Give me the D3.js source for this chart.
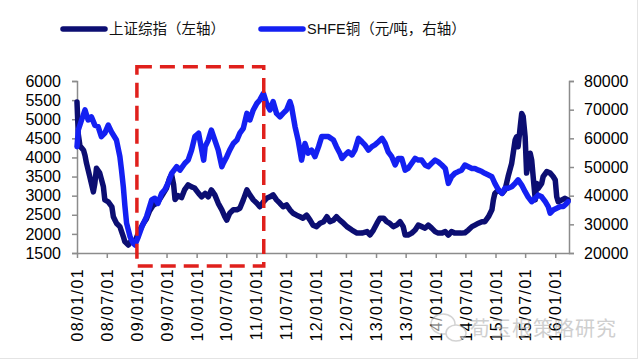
<!DOCTYPE html>
<html><head><meta charset="utf-8">
<script src="https://cdn.jsdelivr.net/npm/d3@7/dist/d3.min.js"></script>
<style>body{margin:0;background:#fff}svg{display:block}</style>
</head><body>
<svg id="chart" width="640" height="360"></svg>
<script>
// ---- data ----
const sseDates = ["2008-01-01","2008-01-09","2008-01-19","2008-01-29","2008-02-10","2008-02-19","2008-02-28","2008-03-19","2008-04-10","2008-04-19","2008-04-29","2008-05-19","2008-06-10","2008-06-19","2008-07-10","2008-08-01","2008-08-10","2008-08-29","2008-09-19","2008-10-10","2008-10-19","2008-11-10","2008-11-30","2008-12-20",
"2009-01-01","2009-01-19","2009-02-10","2009-03-01","2009-03-19","2009-04-10","2009-05-01","2009-05-19","2009-06-10","2009-07-01","2009-07-19","2009-08-01","2009-08-13","2009-08-22","2009-09-10","2009-10-01","2009-10-19","2009-11-10","2009-12-01","2009-12-19",
"2010-01-13","2010-02-01","2010-02-22","2010-03-13","2010-04-01","2010-04-22","2010-05-13","2010-06-04","2010-06-22","2010-07-04","2010-07-22","2010-08-13","2010-09-04","2010-09-22","2010-10-13","2010-11-04","2010-11-22","2010-12-13",
"2011-01-04","2011-01-22","2011-02-13","2011-03-04","2011-03-25","2011-04-13","2011-05-04","2011-05-25","2011-06-13","2011-07-04","2011-07-25","2011-08-13","2011-09-04","2011-09-25","2011-10-13","2011-11-04","2011-11-25","2011-12-13",
"2012-01-04","2012-01-25","2012-02-16","2012-03-07","2012-03-25","2012-04-16","2012-05-04","2012-05-25","2012-06-16","2012-07-07","2012-08-07","2012-09-07","2012-10-07","2012-11-07","2012-11-25","2012-12-16",
"2013-01-07","2013-01-25","2013-02-16","2013-03-07","2013-03-25","2013-04-16","2013-05-07","2013-05-28","2013-06-16","2013-06-28","2013-07-16","2013-08-07","2013-08-28","2013-09-16","2013-10-07","2013-10-28","2013-11-16","2013-12-07","2013-12-28",
"2014-01-16","2014-02-07","2014-02-28","2014-03-19","2014-04-07","2014-04-28","2014-05-19","2014-06-07","2014-06-28","2014-07-19","2014-08-10","2014-08-28","2014-09-19","2014-10-10","2014-10-28","2014-11-19","2014-12-10","2014-12-19","2014-12-28",
"2015-01-19","2015-02-10","2015-02-28","2015-03-19","2015-04-10","2015-04-19","2015-05-01","2015-05-10","2015-05-19","2015-06-01","2015-06-10","2015-06-19","2015-07-01","2015-07-10","2015-07-19","2015-08-01","2015-08-10","2015-08-19","2015-09-01","2015-09-10","2015-09-19","2015-10-10","2015-10-19","2015-11-10","2015-12-01","2015-12-19",
"2016-01-01","2016-01-10","2016-01-19","2016-02-10","2016-03-01","2016-03-19"];
const sseValues = [5450,4600,4300,4250,4190,4050,3850,3500,3100,3320,3720,3590,3240,2890,2840,2710,2450,2280,2190,1930,1800,1710,1840,1750,
1930,2100,2280,2400,2600,2750,2800,2900,3050,3200,3450,3550,3300,2900,3000,2950,3150,3280,3230,3200,
3060,2970,3060,2970,3150,3020,2800,2630,2450,2360,2540,2630,2630,2670,2890,3150,3020,2890,
2800,2710,2840,2930,2970,3020,2890,2800,2710,2760,2630,2540,2490,2450,2410,2490,2360,2230,
2190,2280,2320,2450,2320,2360,2450,2360,2280,2190,2100,2020,2020,2060,1970,2100,
2280,2410,2410,2320,2280,2190,2230,2320,2190,1970,1970,2020,2100,2230,2190,2150,2230,2150,2060,
2020,2020,2060,1970,2060,2020,2020,2020,2030,2100,2190,2230,2280,2320,2320,2450,2630,2890,3060,
3150,3060,3150,3500,3850,4110,4460,4540,4280,4800,5150,5070,4540,3590,3850,4110,3930,3500,2890,3320,3190,3320,3500,3630,3590,3500,
3410,2970,2840,2890,2930,2890];

const cuDates = ["2008-01-01","2008-01-09","2008-01-29","2008-02-19","2008-03-09","2008-03-29","2008-04-19","2008-05-09","2008-05-29","2008-06-19","2008-07-10","2008-07-29","2008-08-29","2008-09-19","2008-09-29","2008-10-10","2008-10-20","2008-10-30","2008-11-20","2008-12-10","2008-12-20",
"2009-01-10","2009-02-01","2009-03-01","2009-04-01","2009-04-20","2009-05-10","2009-06-01","2009-06-20","2009-07-10","2009-08-01","2009-09-01","2009-09-21","2009-10-21","2009-11-10","2009-12-01","2009-12-21",
"2010-01-13","2010-02-01","2010-02-13","2010-02-22","2010-03-13","2010-04-01","2010-04-22","2010-05-13","2010-06-04","2010-06-13","2010-07-04","2010-07-22","2010-08-13","2010-09-04","2010-09-22","2010-10-13","2010-11-04","2010-11-22","2010-12-13",
"2011-01-04","2011-01-22","2011-02-13","2011-03-04","2011-03-25","2011-04-13","2011-05-04","2011-05-25","2011-06-13","2011-07-04","2011-07-25","2011-08-04","2011-08-25","2011-09-13","2011-10-04","2011-10-25","2011-11-13","2011-12-04","2011-12-25",
"2012-01-16","2012-02-04","2012-02-16","2012-03-16","2012-04-16","2012-05-04","2012-05-25","2012-06-07","2012-06-25","2012-07-16","2012-08-07","2012-08-25","2012-09-16","2012-10-07","2012-10-25","2012-11-16","2012-12-07","2012-12-25",
"2013-01-16","2013-02-07","2013-02-25","2013-03-16","2013-04-07","2013-04-28","2013-05-16","2013-06-07","2013-06-28","2013-07-16","2013-08-07","2013-08-28","2013-09-16","2013-10-07","2013-10-28","2013-11-16","2013-12-07","2013-12-28",
"2014-01-16","2014-02-07","2014-02-28","2014-03-19","2014-04-07","2014-04-28","2014-05-19","2014-06-07","2014-06-28","2014-07-19","2014-08-10","2014-08-28","2014-09-19","2014-10-10","2014-10-28","2014-11-19","2014-12-10","2014-12-28",
"2015-01-19","2015-02-10","2015-02-28","2015-03-19","2015-04-10","2015-05-01","2015-05-19","2015-06-10","2015-07-01","2015-07-19","2015-08-10","2015-09-01","2015-09-19","2015-10-10","2015-11-01","2015-11-19","2015-12-01","2015-12-19",
"2016-01-10","2016-02-01","2016-02-19","2016-03-10","2016-03-19"];
const cuValues = [57100,62900,66400,69900,66400,67500,64600,64100,60600,61800,64600,62300,59400,53600,48900,43100,36200,30400,25700,23400,22800,
25700,29200,32700,38500,39100,37300,40800,42000,44300,47800,50100,48900,51300,52400,55900,60600,
61800,55900,52400,57100,59400,62900,59400,55900,50100,51300,53600,55900,58200,59400,61800,63500,68700,66400,69900,
72200,73400,75700,72200,69900,72800,68700,67500,68700,69900,72800,71000,64100,59400,52400,58200,54800,55900,53600,
57100,60600,60600,60600,59400,57100,54800,53000,54200,55300,54200,55900,60000,58800,57700,55900,57100,57700,
58800,60000,58300,55300,53600,50700,53000,53000,48900,49500,51300,53000,52400,52400,50700,50100,51300,52400,
51800,50700,49500,44300,46600,47800,48400,48900,50700,50100,49500,49500,48900,48400,47800,47200,46600,44300,
42000,40800,42600,42600,43100,44300,45500,43700,41400,39600,37900,39100,40200,39600,37900,36200,33900,35000,
35600,36200,36200,37300,37900];

const leftTicks = [1500,2000,2500,3000,3500,4000,4500,5000,5500,6000];
const rightTicks = [20000,30000,40000,50000,60000,70000,80000];
const xTickDates = ["2008-01-01","2008-07-01","2009-01-01","2009-07-01","2010-01-01","2010-07-01","2011-01-01","2011-07-01","2012-01-01","2012-07-01","2013-01-01","2013-07-01","2014-01-01","2014-07-01","2015-01-01","2015-07-01","2016-01-01"];
const xDomain = ["2008-01-01","2016-03-25"];
const legendLabels = ["上证综指（左轴）","SHFE铜（元/吨，右轴）"];
const highlightDates = ["2009-01-01","2011-02-15"];
const highlightLeftValues = [6370,1160];
const watermarkText = "荀玉根策略研究";

// ---- styles ----
const cDark = "#0c0e72", cBlue = "#1420f2", cAxis = "#8c8c8c", cRed = "#e0201c";
const parse = d3.timeParse("%Y-%m-%d");
const fmt = d3.timeFormat("%y/%m/%d");
const numFmt = d3.format("d");

const svg = d3.select("#chart");
svg.append("rect").attr("width",640).attr("height",360).attr("fill","#fff");

const x = d3.scaleTime().domain(xDomain.map(parse)).range([77,569]);
const yL = d3.scaleLinear().domain([1500,6000]).range([253,81]);
const yR = d3.scaleLinear().domain([20000,80000]).range([253,81]);

const fontNum = "'Liberation Sans', Arial, sans-serif";

const gL = svg.append("g").attr("transform","translate(77,0)")
  .call(d3.axisLeft(yL).tickValues(leftTicks).tickFormat(numFmt).tickSize(5).tickPadding(11));
const gR = svg.append("g").attr("transform","translate(569,0)")
  .call(d3.axisRight(yR).tickValues(rightTicks).tickFormat(numFmt).tickSize(5).tickPadding(10));
const gB = svg.append("g").attr("transform","translate(0,253)")
  .call(d3.axisBottom(x).tickValues(xTickDates.map(parse)).tickFormat(fmt).tickSize(5).tickSizeOuter(0));

[gL,gR,gB].forEach(g=>{
  g.select(".domain").attr("stroke",cAxis).attr("stroke-width",1.5);
  g.selectAll(".tick line").attr("stroke",cAxis).attr("stroke-width",1.5);
  g.selectAll("text").attr("fill","#000").attr("font-family",fontNum).attr("font-size",16);
});
gB.selectAll(".tick text")
  .attr("transform","rotate(-90)")
  .attr("text-anchor","end")
  .attr("x",-15).attr("y",0).attr("dy","0.35em")
  .attr("letter-spacing","1.4px");

const lineL = d3.line().x(d=>x(d[0])).y(d=>yL(d[1])).curve(d3.curveLinear);
const lineR = d3.line().x(d=>x(d[0])).y(d=>yR(d[1])).curve(d3.curveLinear);
const sse = sseDates.map((d,i)=>[parse(d),sseValues[i]]);
const cu = cuDates.map((d,i)=>[parse(d),cuValues[i]]);

svg.append("path").datum(sse).attr("d",lineL).attr("fill","none")
  .attr("stroke",cDark).attr("stroke-width",5.5).attr("stroke-linejoin","round").attr("stroke-linecap","round");
svg.append("path").datum(cu).attr("d",lineR).attr("fill","none")
  .attr("stroke",cBlue).attr("stroke-width",5.5).attr("stroke-linejoin","round").attr("stroke-linecap","round");

const hx0 = x(parse(highlightDates[0])), hx1 = x(parse(highlightDates[1]));
const hy0 = yL(highlightLeftValues[0]), hy1 = yL(highlightLeftValues[1]);
svg.append("rect").attr("x",hx0).attr("y",hy0).attr("width",hx1-hx0).attr("height",hy1-hy0)
  .attr("fill","none").attr("stroke",cRed).attr("stroke-width",3.5).attr("stroke-dasharray","15,8");

const legend = [{label:legendLabels[0],color:cDark,x:63},{label:legendLabels[1],color:cBlue,x:261}];
const lg = svg.append("g");
legend.forEach(l=>{
  lg.append("line").attr("x1",l.x).attr("x2",l.x+42).attr("y1",29).attr("y2",29)
    .attr("stroke",l.color).attr("stroke-width",5.5).attr("stroke-linecap","round");
  lg.append("text").attr("x",l.x+46).attr("y",34).text(l.label)
    .attr("font-family","'Liberation Sans','Noto Sans CJK SC',sans-serif").attr("font-size",14.5).attr("fill","#111");
});

const wm = svg.append("g").attr("opacity",0.55);
wm.append("ellipse").attr("cx",443).attr("cy",324).attr("rx",12).attr("ry",10).attr("fill","#fff").attr("stroke","#b0b0b0").attr("stroke-width",1.5);
wm.append("ellipse").attr("cx",456).attr("cy",333).attr("rx",10).attr("ry",8).attr("fill","#fff").attr("stroke","#b0b0b0").attr("stroke-width",1.5);
wm.append("text").attr("x",470).attr("y",336).text(watermarkText)
  .attr("font-family","'Noto Sans CJK SC',sans-serif").attr("font-size",20).attr("letter-spacing","1px").attr("fill","#a8a8a8");

svg.append("line").attr("x1",0).attr("x2",637).attr("y1",358.5).attr("y2",358.5).attr("stroke","#e4e4e4");
svg.append("line").attr("x1",637.5).attr("x2",637.5).attr("y1",0).attr("y2",359).attr("stroke","#e4e4e4");
</script>
</body></html>
